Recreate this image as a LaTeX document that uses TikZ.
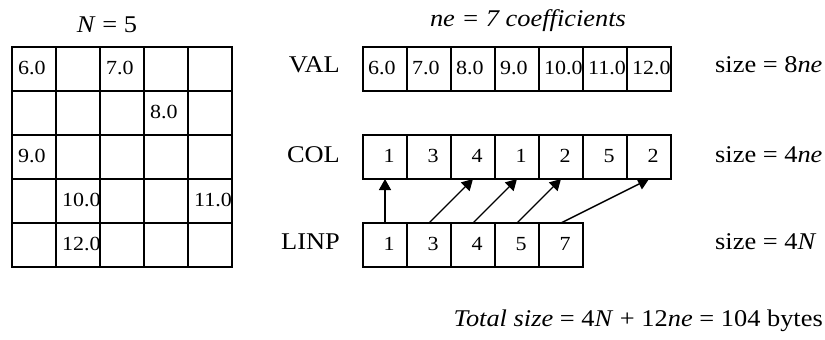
\documentclass[tikz,border=0pt]{standalone}
\usepackage{fontspec}
\setmainfont[FakeStretch=1.1]{Liberation Serif}
\usetikzlibrary{arrows.meta,calc}

\tikzset{
  cellbox/.style={draw, line width=1.6pt, minimum width=44pt, minimum height=44pt, inner sep=0pt, outer sep=0pt},
  cellnum/.style={font=\fontsize{20}{20}\selectfont, inner sep=0pt, anchor=base west},
  idxnum/.style={font=\fontsize{20}{20}\selectfont, inner sep=0pt, anchor=base},
  rowlabel/.style={font=\fontsize{24}{24}\selectfont, inner sep=0pt, anchor=base east},
  sizelabel/.style={font=\fontsize{24}{24}\selectfont, inner sep=0pt, anchor=base west},
  head/.style={font=\fontsize{24}{24}\selectfont, inner sep=0pt, anchor=base},
  ptr/.style={line width=1.4pt, -{Triangle[length=11pt,width=12pt]}}
}

\begin{document}
\begin{tikzpicture}[x=1pt,y=-1pt]
\useasboundingbox (0,0) rectangle (825,340);

% dense 5x5 matrix
\foreach \r in {1,...,5}{
  \foreach \c in {1,...,5}{
    \node[cellbox] (g\r\c) at ({12+44*\c-22},{47+44*\r-22}) {};
  }
}
\node[head] (nlab) at (107,32) {\textit{N} = 5};

% stored coefficients inside the matrix
\node[cellnum] (a11) at ($(g11.west)+(6,5)$) {6.0};
\node[cellnum] (a13) at ($(g13.west)+(6,5)$) {7.0};
\node[cellnum] (a24) at ($(g24.west)+(6,5)$) {8.0};
\node[cellnum] (a31) at ($(g31.west)+(6,5)$) {9.0};
\node[cellnum] (a42) at ($(g42.west)+(6,5)$) {10.0};
\node[cellnum] (a45) at ($(g45.west)+(6,5)$) {11.0};
\node[cellnum] (a52) at ($(g52.west)+(6,5)$) {12.0};

% VAL array
\node[head] (nelab) at (528,27) {\textit{ne = 7 coefficients}};
\node[rowlabel] (valab) at (340,72) {VAL};
\foreach \v [count=\i] in {6.0,7.0,8.0,9.0,10.0,11.0,12.0}{
  \node[cellbox] (v\i) at ({363+44*\i-22},69) {};
  \node[cellnum] (vt\i) at ($(v\i.west)+(5,5)$) {\v};
}
\node[sizelabel] (vsz) at (715,72) {size = 8\textit{ne}};

% COL array
\node[rowlabel] (collab) at (340,162) {COL};
\foreach \v [count=\i] in {1,3,4,1,2,5,2}{
  \node[cellbox] (c\i) at ({363+44*\i-22},157) {};
  \node[idxnum] (ct\i) at ($(c\i.center)+(4,5)$) {\v};
}
\node[sizelabel] (csz) at (715,162) {size = 4\textit{ne}};

% LINP array
\node[rowlabel] (linlab) at (340,249) {LINP};
\foreach \v [count=\i] in {1,3,4,5,7}{
  \node[cellbox] (l\i) at ({363+44*\i-22},245) {};
  \node[idxnum] (lt\i) at ($(l\i.center)+(4,5)$) {\v};
}
\node[sizelabel] (lsz) at (715,249) {size = 4\textit{N}};

% row pointers into COL
\draw[ptr] (l1.north) -- (c1.south);
\draw[ptr] (l2.north) -- (c3.south);
\draw[ptr] (l3.north) -- (c4.south);
\draw[ptr] (l4.north) -- (c5.south);
\draw[ptr] (l5.north) -- (c7.south);

% total storage
\node[font=\fontsize{24}{24}\selectfont, inner sep=0pt, anchor=base east] (tot) at (823,326)
  {\textit{Total size} = 4\textit{N} + 12\textit{ne} = 104 bytes};
\end{tikzpicture}
\end{document}
